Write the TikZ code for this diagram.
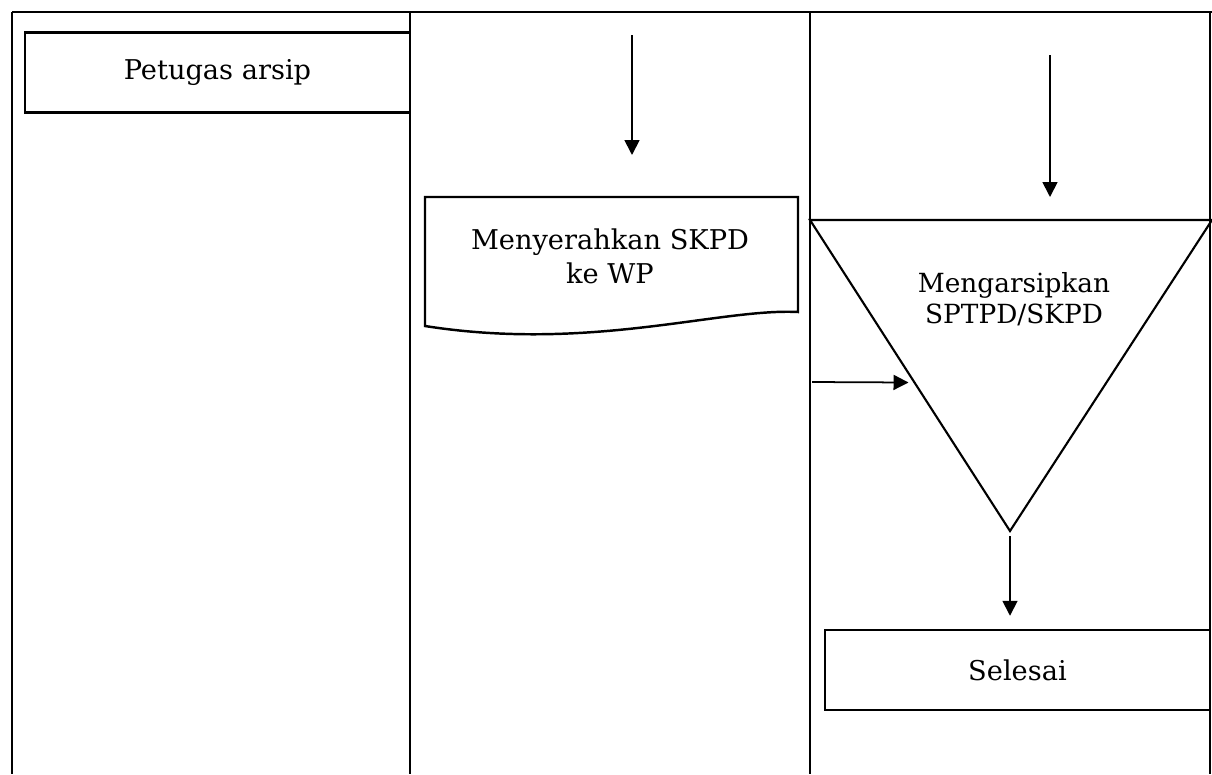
\documentclass[tikz,border=0pt]{standalone}
\usepackage{fontspec}
\setmainfont{DejaVu Serif}
\usepackage{tikz}
\usetikzlibrary{arrows.meta, calc, positioning, shapes.geometric}

\tikzset{
  garis/.style={line width=0.8pt},
  teks/.style={font=\fontsize{15.5}{19.5}\selectfont},
  kotak/.style={draw, line width=1.4pt, rectangle, minimum width=77mm, minimum height=16mm, teks},
  panah/.style={line width=1pt, -{Triangle[length=3mm,width=3mm]}}
}

\begin{document}
\begin{tikzpicture}[x=0.2mm, y=-0.2mm]

            \useasboundingbox (0,0) rectangle (1212,774);

            % Garis kolom
            \draw[garis] (12,12) -- (1212,12); % Garis atas
            \foreach \xk in {12,410,810,1210}
              \draw[garis] (\xk,12) -- (\xk,774);

            % Kotak judul dan kotak akhir
            \node[kotak] (petugas) at (217.5,72.5) {Petugas arsip};
            \node[kotak] (selesai) at (1017.5,670) {Selesai};

            % Dokumen
            \draw[line width=1.4pt] (425,197) -- (798,197) -- (798,312)
              .. controls (720,308) and (590,352) .. (425,326) -- cycle;
            \node[align=center, teks] (serah) at (610,256) {Menyerahkan SKPD\\ke WP};

            % Segitiga arsip
            \coordinate (t1) at (810,220);
            \coordinate (t2) at (1212,220);
            \coordinate (t3) at (1010,531);
            \draw[line width=1.2pt] (t1) -- (t2) -- (t3) -- cycle;
            \node[align=center, font=\fontsize{15}{17.5}\selectfont] (arsip) at (1014,299) {Mengarsipkan\\SPTPD/SKPD};

            % Panah
            \coordinate (m1) at (632,35);
            \coordinate (m2) at (632,155);
            \draw[panah] (m1) -- (m2);
            \coordinate (n1) at (1050,55);
            \coordinate (n2) at (1050,197);
            \draw[panah] (n1) -- (n2);
            \coordinate (h1) at (812,382);
            \coordinate (h2) at ($(t1)!0.5226!(t3)$);
            \draw[panah, shorten >=1.2mm] (h1) -- (h2);
            \draw[panah, shorten <=1mm, shorten >=2.6mm] (t3) -- (selesai.north -| t3);

            \end{tikzpicture}
\end{document}
